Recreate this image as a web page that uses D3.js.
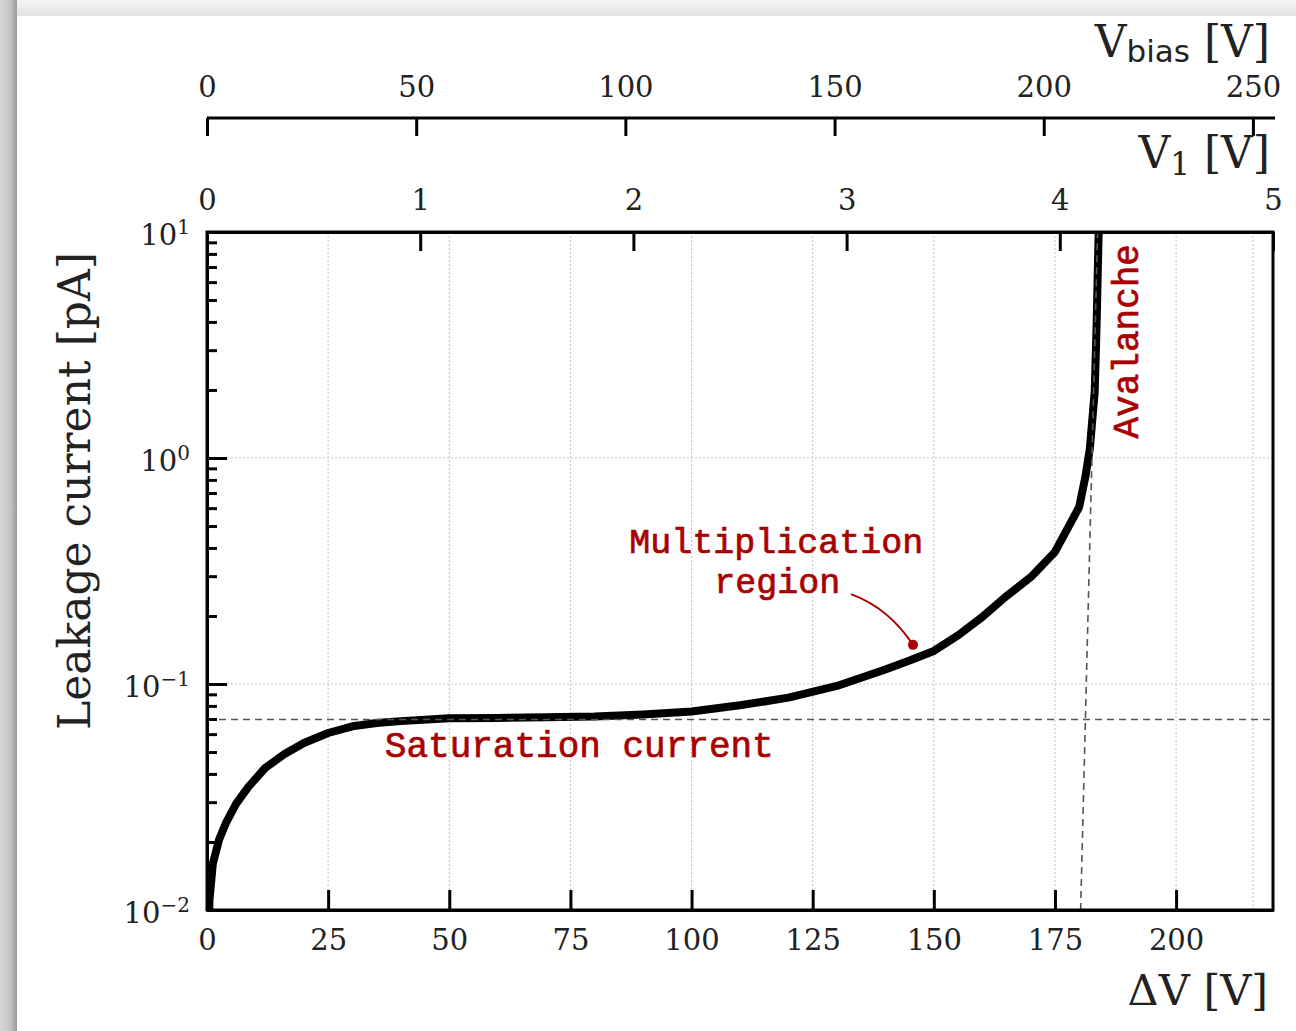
<!DOCTYPE html>
<html>
<head>
<meta charset="utf-8">
<script src="https://cdn.jsdelivr.net/npm/d3@7"></script>
<style>
  body { margin: 0; background: #fff; }
  svg { display: block; }
  .tick text { font-family: "DejaVu Serif", serif; fill: #222; }
  .note { font-family: "Courier New", "Liberation Mono", monospace; fill: #aa0000; stroke: #aa0000; stroke-width: 0.7; }
</style>
</head>
<body>
<div id="chart"></div>
<script>
// values
var deltaV = [0.2, 0.5, 1.2, 2.5, 4, 6, 8.5, 12, 16, 20, 25, 30, 35, 40, 50, 60, 70, 80, 90,
  100, 110, 120, 130, 140, 145, 150, 155, 160, 165, 170, 175, 180, 181.3, 182.2, 183.2, 183.6, 184.1]
var leakage = [0.004, 0.011, 0.016, 0.0205, 0.0245, 0.0295, 0.035, 0.0425, 0.049, 0.0548, 0.0607,
  0.065, 0.0672, 0.0685, 0.0705, 0.0708, 0.0712, 0.0718, 0.0733, 0.0755, 0.0805, 0.087, 0.098,
  0.116, 0.127, 0.14, 0.164, 0.198, 0.245, 0.297, 0.384, 0.607, 0.83, 1.1, 1.96, 3.9, 12]

var deltaVTicks = [0, 25, 50, 75, 100, 125, 150, 175, 200]
var v1Ticks = [0, 1, 2, 3, 4, 5]
var vbiasTicks = [0, 50, 100, 150, 200, 250]
var currentTicks = [0.01, 0.1, 1, 10]

var saturationCurrent = 0.0697
var breakdownDV = [180.3, 183.8]
var breakdownI = [0.01, 10]

var W = 1296, H = 1031
var plot = {left: 207, right: 1273, top: 232, bottom: 910}

var svg = d3.select('#chart').append('svg')
  .attr('width', W)
  .attr('height', H)

// screenshot frame: grey strips on top and left
var defs = svg.append('defs')
var gLeft = defs.append('linearGradient').attr('id', 'shadeLeft')
gLeft.append('stop').attr('offset', 0).attr('stop-color', '#d6d6d6')
gLeft.append('stop').attr('offset', 0.6).attr('stop-color', '#c4c4c4')
gLeft.append('stop').attr('offset', 1).attr('stop-color', '#9c9c9c')
var gTop = defs.append('linearGradient').attr('id', 'shadeTop')
  .attr('x1', 0).attr('x2', 0).attr('y1', 0).attr('y2', 1)
gTop.append('stop').attr('offset', 0).attr('stop-color', '#f4f4f4')
gTop.append('stop').attr('offset', 1).attr('stop-color', '#e2e2e2')
defs.append('clipPath').attr('id', 'plotClip')
  .append('rect')
  .attr('x', plot.left).attr('y', plot.top)
  .attr('width', plot.right - plot.left).attr('height', plot.bottom - plot.top)

svg.append('rect').attr('x', 0).attr('y', 0).attr('width', W).attr('height', 16)
  .attr('fill', 'url(#shadeTop)')
svg.append('rect').attr('x', 0).attr('y', 0).attr('width', 17).attr('height', H)
  .attr('fill', 'url(#shadeLeft)')

// scales
var x = d3.scaleLinear().domain([0, 220]).range([plot.left, plot.right])
var y = d3.scaleLog().domain([0.01, 10]).range([plot.bottom, plot.top])
var v1 = d3.scaleLinear().domain([0, 5]).range([plot.left, plot.right])
var vbias = d3.scaleLinear().domain([0, 254.8]).range([plot.left, plot.right])

// grid
var grid = svg.append('g').attr('class', 'grid')
  .attr('stroke', '#c4c4c4').attr('stroke-width', 1).attr('stroke-dasharray', '2,2')
var gridX = deltaVTicks.slice(1).map(function(d) { return x(d) }).concat([vbias(250)])
grid.selectAll('line.gx').data(gridX).enter().append('line')
  .attr('x1', function(d) { return d }).attr('x2', function(d) { return d })
  .attr('y1', plot.top).attr('y2', plot.bottom)
grid.selectAll('line.gy').data(currentTicks.slice(1, 3)).enter().append('line')
  .attr('x1', plot.left).attr('x2', plot.right)
  .attr('y1', function(d) { return y(d) }).attr('y2', function(d) { return y(d) })

// curve
var points = deltaV.map(function(d, i) { return {dv: d, i: leakage[i]} })
var line = d3.line()
  .x(function(d) { return x(d.dv) })
  .y(function(d) { return y(d.i) })
svg.append('path')
  .datum(points)
  .attr('clip-path', 'url(#plotClip)')
  .attr('fill', 'none')
  .attr('stroke', '#000')
  .attr('stroke-width', 8)
  .attr('stroke-linejoin', 'round')
  .attr('d', line)

// dashed guides
var guides = svg.append('g').attr('clip-path', 'url(#plotClip)')
  .attr('stroke', '#555').attr('stroke-width', 1.6).attr('stroke-dasharray', '7,5')
guides.append('line')
  .attr('x1', x(0)).attr('x2', x(220))
  .attr('y1', y(saturationCurrent)).attr('y2', y(saturationCurrent))
guides.append('line')
  .attr('x1', x(breakdownDV[0])).attr('x2', x(breakdownDV[1]))
  .attr('y1', y(breakdownI[0])).attr('y2', y(breakdownI[1]))

// bottom axis (delta V)
var axB = svg.append('g')
  .attr('transform', 'translate(0,' + plot.bottom + ')')
  .call(d3.axisBottom(x).tickValues(deltaVTicks).tickSizeInner(-20).tickSizeOuter(0))
axB.selectAll('.tick text').attr('y', 40).attr('dy', null).attr('font-size', 29)

// top axis (V1)
var axT = svg.append('g')
  .attr('transform', 'translate(0,' + plot.top + ')')
  .call(d3.axisTop(v1).tickValues(v1Ticks).tickFormat(d3.format('d'))
    .tickSizeInner(-19).tickSizeOuter(0).tickPadding(22))
axT.selectAll('.tick text').attr('y', -22).attr('dy', null).attr('font-size', 29)

// left axis, log scale
var minorTicks = []
;[0.01, 0.1, 1].forEach(function(dec) {
  for (var k = 2; k <= 9; k++) minorTicks.push(dec * k)
})
svg.append('g')
  .attr('transform', 'translate(' + plot.left + ',0)')
  .call(d3.axisLeft(y).tickValues(minorTicks).tickSizeInner(-10).tickSizeOuter(0).tickFormat(''))
var axL = svg.append('g')
  .attr('transform', 'translate(' + plot.left + ',0)')
  .call(d3.axisLeft(y).tickValues(currentTicks).tickSizeInner(-20).tickSizeOuter(0).tickFormat(''))
axL.selectAll('.tick text')
  .attr('x', -17).attr('dy', null).attr('y', 12).attr('font-size', 29)
  .each(function(d) {
    var t = d3.select(this)
    var e = Math.round(Math.log10(d))
    t.append('tspan').text('10')
    t.append('tspan').attr('font-size', 20).attr('dy', -11)
      .text(e < 0 ? '\u2212' + (-e) : e)
  })

// separate V_bias axis above
var axV = svg.append('g')
  .attr('transform', 'translate(0,118)')
  .call(d3.axisTop(vbias).tickValues(vbiasTicks).tickSizeInner(-18).tickSizeOuter(0).tickPadding(21))
axV.select('.domain').attr('d', 'M' + plot.left + ',0H' + (plot.right + 2))
axV.selectAll('.tick text').attr('y', -21).attr('dy', null).attr('font-size', 29)

svg.selectAll('.domain').attr('stroke', '#000').attr('stroke-width', 3)
svg.selectAll('.tick line').attr('stroke', '#000').attr('stroke-width', 3)

// frame
svg.append('rect')
  .attr('x', plot.left).attr('y', plot.top)
  .attr('width', plot.right - plot.left).attr('height', plot.bottom - plot.top)
  .attr('fill', 'none').attr('stroke', '#000').attr('stroke-width', 3)

// axis titles
var serif = '"DejaVu Serif", serif'
svg.append('text')
  .attr('transform', 'translate(90,730) rotate(-90)')
  .attr('font-family', serif).attr('font-size', 44).attr('fill', '#222')
  .text('Leakage current [pA]')

svg.append('text')
  .attr('x', 1268).attr('y', 1005).attr('text-anchor', 'end')
  .attr('font-family', serif).attr('font-size', 43).attr('fill', '#222')
  .text('\u0394V [V]')

var v1Title = svg.append('text')
  .attr('x', 1270).attr('y', 168).attr('text-anchor', 'end')
  .attr('font-family', serif).attr('font-size', 44).attr('fill', '#222')
v1Title.append('tspan').text('V')
v1Title.append('tspan').attr('font-size', 31).attr('dy', 7).text('1')
v1Title.append('tspan').attr('dy', -7).text(' [V]')

var vbTitle = svg.append('text')
  .attr('x', 1270).attr('y', 57).attr('text-anchor', 'end')
  .attr('font-family', serif).attr('font-size', 44).attr('fill', '#222')
vbTitle.append('tspan').text('V')
vbTitle.append('tspan').attr('font-family', '"DejaVu Sans", sans-serif')
  .attr('font-size', 31).attr('dy', 5).text('bias')
vbTitle.append('tspan').attr('dy', -5).text(' [V]')

// annotations
var notes = svg.append('g').attr('class', 'note-layer')
notes.append('text').attr('class', 'note')
  .attr('x', x(36.7)).attr('y', y(0.0475)).attr('font-size', 36)
  .text('Saturation current')

notes.append('text').attr('class', 'note')
  .attr('text-anchor', 'start')
  .attr('transform', 'translate(' + x(192.2) + ',' + y(1.22) + ') rotate(-90)')
  .attr('font-size', 36)
  .text('Avalanche')

notes.append('text').attr('class', 'note')
  .attr('x', x(117.5)).attr('y', y(0.378)).attr('text-anchor', 'middle').attr('font-size', 35)
  .text('Multiplication')
notes.append('text').attr('class', 'note')
  .attr('x', x(117.7)).attr('y', y(0.253)).attr('text-anchor', 'middle').attr('font-size', 35)
  .text('region')

var a0 = [x(132.9), y(0.25)], a1 = [x(145.7), y(0.149)]
notes.append('path')
  .attr('d', 'M' + a0[0] + ',' + a0[1] + 'Q' + (a0[0] + 38) + ',' + (a0[1] + 14) + ' ' + a1[0] + ',' + a1[1])
  .attr('fill', 'none').attr('stroke', '#aa0000').attr('stroke-width', 2)
notes.append('circle')
  .attr('cx', a1[0]).attr('cy', a1[1]).attr('r', 5).attr('fill', '#aa0000')
</script>
</body>
</html>
